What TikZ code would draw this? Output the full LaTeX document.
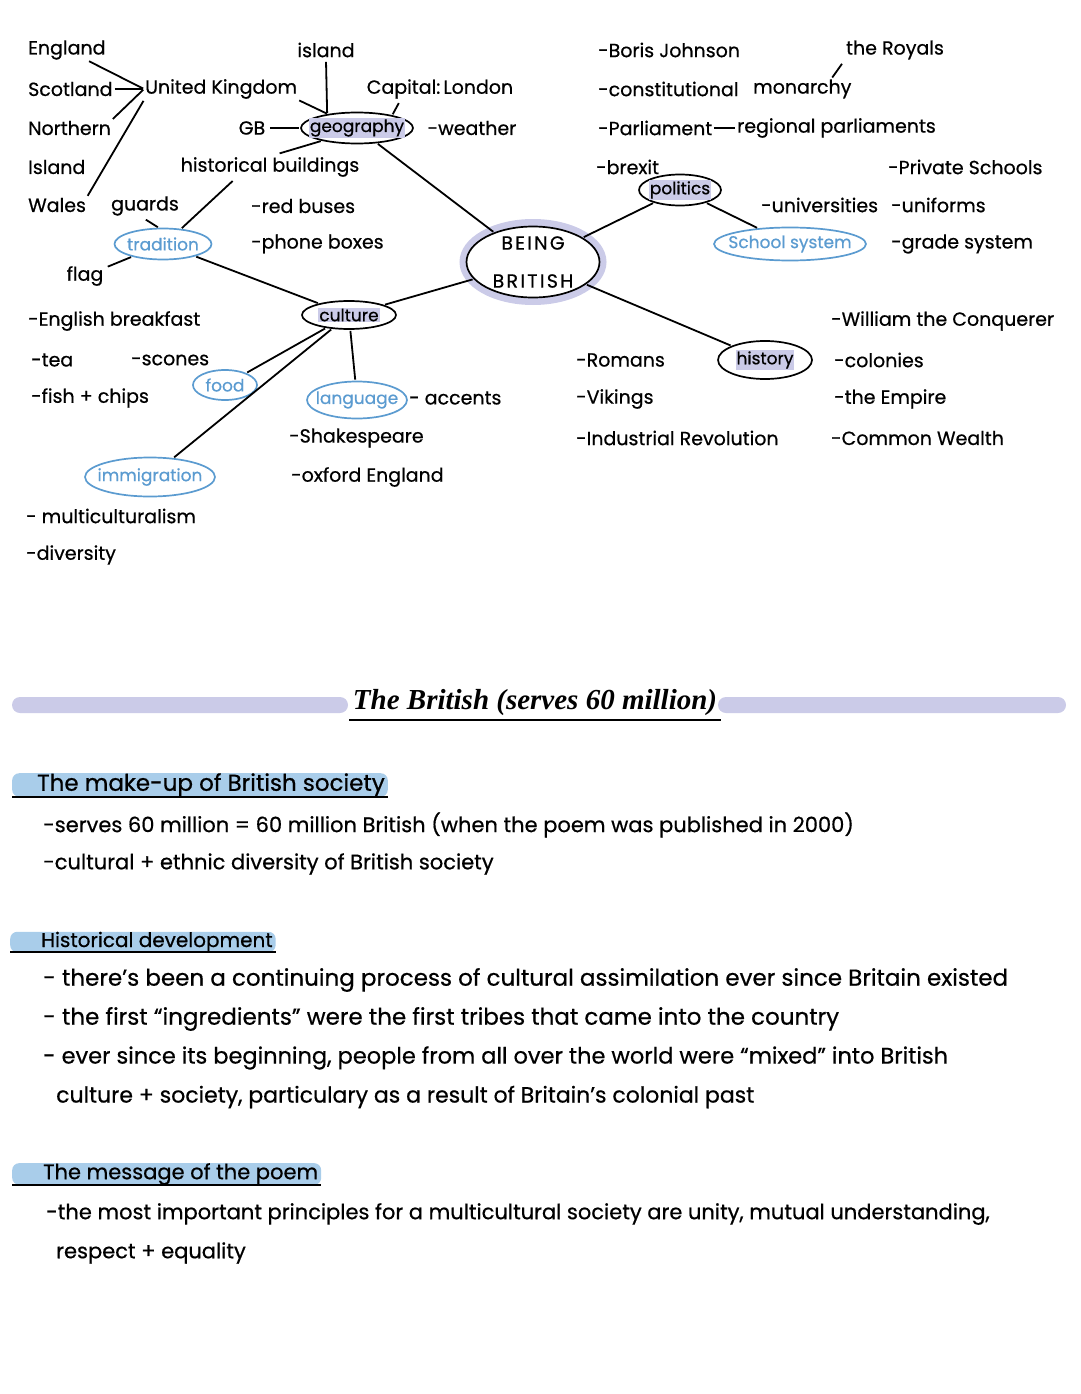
\documentclass[tikz,border=0pt]{standalone}
\usepackage{fontspec}
\setmainfont{Poppins}[FakeBold=0.6]
\newfontfamily\headfont{Liberation Serif}
\usetikzlibrary{shapes.geometric}

\definecolor{lav}{HTML}{CBCBE8}
\definecolor{skyline}{HTML}{5B9BD0}
\definecolor{paleblue}{HTML}{A9CDEA}
\newcommand{\hl}[1]{{\setlength{\fboxsep}{1pt}\colorbox{lav}{#1}}}

\begin{document}
\begin{tikzpicture}[x=1pt, y=-1pt,
    every node/.style={font=\fontsize{19}{22}\selectfont},
    word/.style={anchor=west, inner sep=1pt},
    note/.style={word, font=\fontsize{21}{24}\selectfont},
    topic/.style={ellipse, draw, line width=1.7pt, inner xsep=-30pt, inner ysep=-8pt, font=\fontsize{17}{20}\selectfont},
    subtopic/.style={topic, draw=skyline, text=skyline},
    heading/.style={anchor=west, fill=paleblue, rounded corners=7pt, inner xsep=3pt, inner ysep=0pt},
    every edge/.style={draw, line width=1.8pt, shorten <=1pt, shorten >=1pt}]
    \useasboundingbox (0,0) rectangle (1080,1394);

    % geography side
    \path
    (27,50) node[word] (england) {England}
    (27,89) node[word] (scotland) {Scotland}
    (27,128) node[word] (northern) {Northern}
    (27,167) node[word] (nisland) {Island}
    (27,205) node[word] (wales) {Wales}
    (144,89) node[word] (uk) {United Kingdom}
    (326,50) node (island) {island}
    (252,128) node (gb) {GB}
    (357,128) node[topic, minimum width=112pt, minimum height=31pt] (geo) {\hl{geography}}
    (440,89) node (capital) {Capital:\,London}
    (472,128) node (weather) {-weather}
    (270,167) node (buildings) {historical buildings}
    (145,206) node (guards) {guards}
    (163,244) node[subtopic, minimum width=97pt, minimum height=31pt] (tradition) {tradition}
    (85,276) node (flag) {flag}
    (250,206) node[word] (buses) {-red buses}
    (250,244) node[word] (boxes) {-phone boxes};

    % centre
    \node[ellipse, draw=lav, line width=7pt, minimum width=140pt, minimum height=79pt] (ring) at (533,262) {};
    \node[ellipse, draw, line width=1.7pt, inner sep=-14pt, minimum width=133pt, minimum height=71pt, align=center]
        (bb) at (533,262) {\addfontfeature{LetterSpace=12}BEING\\[16pt]\addfontfeature{LetterSpace=12}BRITISH};

    % politics and history
    \path
    (597,50) node[word] (boris) {-Boris Johnson}
    (895,50) node (royals) {the Royals}
    (597,89) node[word] (const) {-constitutional}
    (752,89) node[word] (monarchy) {monarchy}
    (597,128) node[word] (parl) {-Parliament}
    (736,128) node[word] (regional) {regional parliaments}
    (595,167) node[word] (brexit) {-brexit}
    (680,190) node[topic, minimum width=82pt, minimum height=31pt] (politics) {\hl{politics}}
    (760,205) node[word] (unis) {-universities}
    (790,244) node[subtopic, minimum width=152pt, minimum height=33pt] (school) {School system}
    (887,167) node[word] (private) {-Private Schools}
    (890,205) node[word] (uniforms) {-uniforms}
    (890,244) node[word] (grade) {-grade system}
    (765,360) node[topic, minimum width=94pt, minimum height=38pt] (history) {\hl{history}}
    (575,360) node[word] (romans) {-Romans}
    (575,399) node[word] (vikings) {-Vikings}
    (575,438) node[word] (industrial) {-Industrial Revolution}
    (830,321) node[word] (william) {-William the Conquerer}
    (833,360) node[word] (colonies) {-colonies}
    (833,399) node[word] (empire) {-the Empire}
    (830,438) node[word] (wealth) {-Common Wealth};

    % culture side
    \path
    (27,321) node[word] (breakfast) {-English breakfast}
    (30,360) node[word] (tea) {-tea}
    (130,360) node[word] (scones) {-scones}
    (30,398) node[word] (chips) {-fish + chips}
    (349,315) node[topic, minimum width=94pt, minimum height=28pt] (culture) {\hl{culture}}
    (225,385) node[subtopic, minimum width=64pt, minimum height=30pt] (food) {food}
    (357,400) node[subtopic, minimum width=100pt, minimum height=37pt] (language) {language}
    (408,398) node[word] (accents) {- accents}
    (288,438) node[word] (shakespeare) {-Shakespeare}
    (290,477) node[word] (oxford) {-oxford England}
    (150,477) node[subtopic, minimum width=130pt, minimum height=39pt] (immigration) {immigration}
    (25,516) node[word] (multi) {- multiculturalism}
    (25,555) node[word] (diversity) {-diversity};

    \path
    (england) edge (uk.west)
    (scotland) edge (uk.west)
    (northern.north east) edge (uk.west)
    (wales.north east) edge (uk.south west)
    (uk.south east) edge (geo)
    (island.south) edge (geo.155)
    (gb) edge (geo)
    (capital.198) edge (geo.20)
    (geo.200) edge (buildings.57)
    (geo) edge (bb)
    (guards.south) edge (tradition.105)
    (buildings.200) edge (tradition.40)
    (flag) edge (tradition)
    (tradition) edge (culture)
    (culture) edge (bb)
    (culture) edge (food)
    (culture) edge (immigration)
    (culture.-85) edge (language.95)
    (politics) edge (bb)
    (politics) edge (school)
    (bb) edge (history)
    (royals.south west) edge (monarchy.20)
    (parl) edge (regional);

    % notes
    \fill[lav, rounded corners=8pt] (12,697) rectangle (348,713);
    \fill[lav, rounded corners=8pt] (718,697) rectangle (1066,713);
    \node (title) at (535,703) {\headfont\fontsize{29}{32}\selectfont\bfseries\itshape The British (serves 60 million)};
    \draw[line width=2pt] (title.south west) -- (title.south east);

    \path
    (12,785) node[heading, font=\fontsize{23}{26}\selectfont] (makeup) {\hspace{22pt}The make-up of British society}
    (42,825) node[note] (serves) {-serves 60 million = 60 million British (when the poem was published in 2000)}
    (42,864) node[note] (ethnic) {-cultural + ethnic diversity of British society}
    (10,942) node[heading, font=\fontsize{20}{22}\selectfont] (develop) {\hspace{28pt}Historical development}
    (42,980) node[note, font=\fontsize{23}{26}\selectfont] (assim) {- there's been a continuing process of cultural assimilation ever since Britain existed}
    (42,1019) node[note, font=\fontsize{23}{26}\selectfont] (tribes) {- the first ``ingredients'' were the first tribes that came into the country}
    (42,1058) node[note, font=\fontsize{22.5}{26}\selectfont] (mixed) {- ever since its beginning, people from all over the world were ``mixed'' into British}
    (55,1097) node[note, font=\fontsize{22}{26}\selectfont] (colonial) {culture + society, particulary as a result of Britain's colonial past}
    (12,1174) node[heading, font=\fontsize{21}{23}\selectfont] (message) {\hspace{28pt}The message of the poem}
    (45,1214) node[note] (unity) {-the most important principles for a multicultural society are unity, mutual understanding,}
    (55,1253) node[note] (equality) {respect + equality};
    \draw[line width=2pt] (makeup.south west) -- (makeup.south east);
    \draw[line width=2pt] (develop.south west) -- (develop.south east);
    \draw[line width=2pt] (message.south west) -- (message.south east);
\end{tikzpicture}
\end{document}
